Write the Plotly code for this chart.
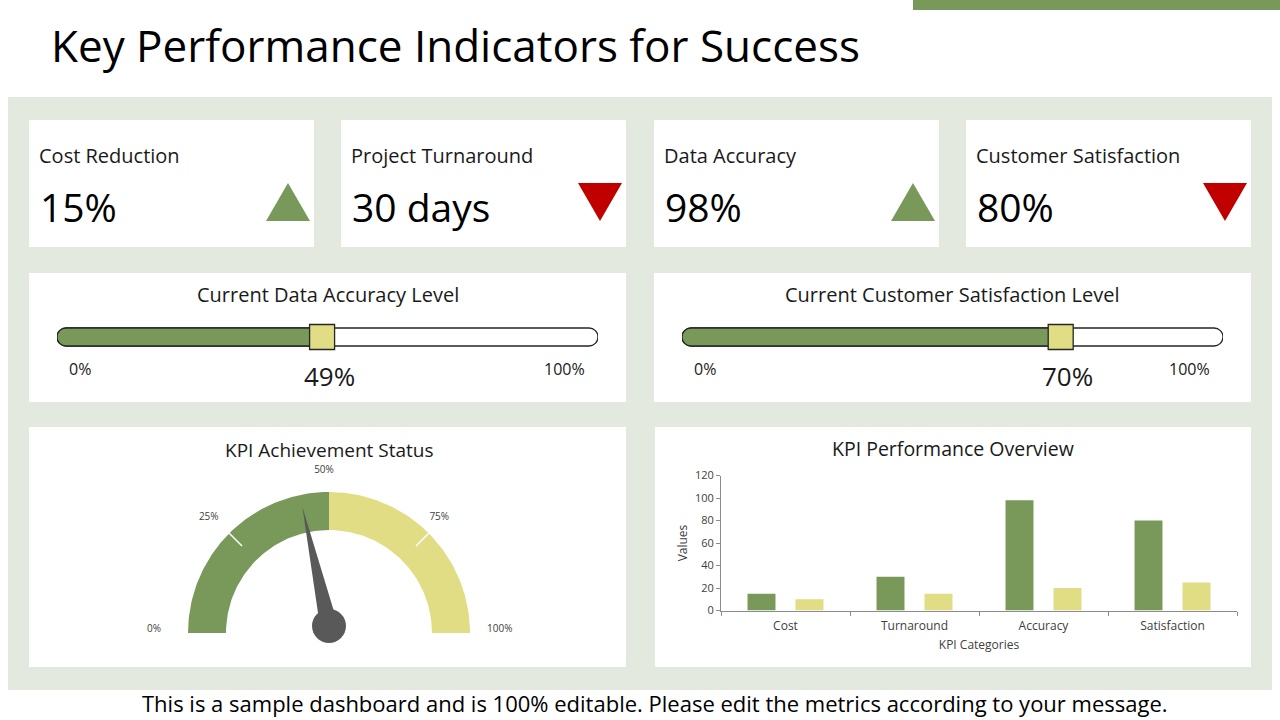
import numpy as np
import plotly.graph_objects as go

W, H = 1280, 720
FONT = "Century Gothic, Open Sans, sans-serif"
GREEN = "#78995A"
YELLOW = "#E0DD85"
RED = "#C00000"
PANEL = "#E3E9DE"
NEEDLE = "#595959"
OUTLINE = "#262626"

# ---------------- data ----------------
page_title = "Key Performance Indicators for Success"
footer_text = ("This is a sample dashboard and is 100% editable. "
               "Please edit the metrics according to your message.")

kpi_titles = ["Cost Reduction", "Project Turnaround", "Data Accuracy", "Customer Satisfaction"]
kpi_values = ["15%", "30 days", "98%", "80%"]
kpi_trends = ["up", "down", "up", "down"]

slider_titles = ["Current Data Accuracy Level", "Current Customer Satisfaction Level"]
slider_values = [49, 70]
slider_min_label = "0%"
slider_max_label = "100%"

gauge_title = "KPI Achievement Status"
gauge_band_edges = [0, 50, 100]
gauge_minor_ticks = [25, 75]
gauge_label_values = [0, 25, 50, 75, 100]
gauge_label_text = ["0%", "25%", "50%", "75%", "100%"]
gauge_value = 43

bar_title = "KPI Performance Overview"
bar_categories = ["Cost", "Turnaround", "Accuracy", "Satisfaction"]
bar_actual = [15, 30, 98, 80]
bar_target = [10, 15, 20, 25]
bar_y_ticks = [0, 20, 40, 60, 80, 100, 120]

# ---------------- helpers ----------------
def X(x):
    return x / W


def Y(y):
    return 1 - y / H


shapes = []
annotations = []


def rect(x0, y0, x1, y1, color):
    shapes.append(dict(type="rect", xref="paper", yref="paper",
                       x0=X(x0), x1=X(x1), y0=Y(y1), y1=Y(y0),
                       fillcolor=color, line=dict(width=0), layer="below"))


def text(x, y, s, size, color="#000000", xanchor="left", yanchor="middle"):
    annotations.append(dict(xref="paper", yref="paper", x=X(x), y=Y(y),
                            text=s, showarrow=False, xanchor=xanchor, yanchor=yanchor,
                            font=dict(family=FONT, size=size, color=color)))


fig = go.Figure()

# page decorations
rect(913, 0, 1280, 10, GREEN)
rect(8, 97, 1272, 690, PANEL)
text(49, 45, page_title, 44, "#000000")
text(655, 703, footer_text, 22, "#000000", xanchor="center")

# ---------------- KPI cards ----------------
row1 = [(29, 314), (341, 626), (654, 939), (966, 1251)]
for i, (x0, x1) in enumerate(row1):
    rect(x0, 120, x1, 247, "white")
    text(x0 + 8, 155, kpi_titles[i], 20, "#1a1a1a")
    text(x0 + 9, 206, kpi_values[i], 39, "#000000")
    tx0, tx1, ty0, ty1 = X(x1 - 48), X(x1 - 4), Y(183), Y(221)
    mid = (tx0 + tx1) / 2
    if kpi_trends[i] == "up":
        path = f"M{tx0},{ty1} L{tx1},{ty1} L{mid},{ty0} Z"
        col = GREEN
    else:
        path = f"M{tx0},{ty0} L{tx1},{ty0} L{mid},{ty1} Z"
        col = RED
    shapes.append(dict(type="path", xref="paper", yref="paper", path=path,
                       fillcolor=col, line=dict(width=0), layer="above"))

# ---------------- sliders ----------------
row2 = [(29, 626), (654, 1251)]
tracks = [(57, 598), (682, 1223)]
K = 0.5523
layout_axes = {}
for i, (c0, c1) in enumerate(row2):
    rect(c0, 273, c1, 402, "white")
    text((c0 + c1) / 2, 294, slider_titles[i], 20, "#1a1a1a", xanchor="center")
    t0, t1 = tracks[i]
    ax = "" if i == 0 else str(i + 1)
    xr, yr = "x" + ax, "y" + ax
    layout_axes["xaxis" + ax] = dict(domain=[X(t0), X(t1)], range=[0, 100], visible=False,
                                     fixedrange=True, anchor=yr)
    layout_axes["yaxis" + ax] = dict(domain=[Y(354), Y(320)], range=[-17, 17], visible=False,
                                     fixedrange=True, anchor=xr)
    rx = 9 * 100 / (t1 - t0)
    ry = 9
    kx, ky = K * rx, K * ry
    track = (f"M{rx},{-ry} L{100 - rx},{-ry} "
             f"C{100 - rx + kx},{-ry} {100},{-ky} {100},0 "
             f"C{100},{ky} {100 - rx + kx},{ry} {100 - rx},{ry} "
             f"L{rx},{ry} C{rx - kx},{ry} 0,{ky} 0,0 "
             f"C0,{-ky} {rx - kx},{-ry} {rx},{-ry} Z")
    shapes.append(dict(type="path", xref=xr, yref=yr, path=track, fillcolor="white",
                       line=dict(color=OUTLINE, width=1.3), layer="below"))
    v = slider_values[i]
    fill = (f"M{v},{-ry} L{rx},{-ry} C{rx - kx},{-ry} 0,{-ky} 0,0 "
            f"C0,{ky} {rx - kx},{ry} {rx},{ry} L{v},{ry} Z")
    shapes.append(dict(type="path", xref=xr, yref=yr, path=fill, fillcolor=GREEN,
                       line=dict(color=OUTLINE, width=1.3), layer="below"))
    fig.add_trace(go.Scatter(x=[v], y=[0], xaxis=xr, yaxis=yr, mode="markers",
                             marker=dict(symbol="square", size=25, color=YELLOW,
                                         line=dict(color=OUTLINE, width=1.3)),
                             hoverinfo="skip", showlegend=False))
    text(t0 + 23, 369, slider_min_label, 16, "#1a1a1a", xanchor="center")
    text(t1 - 34, 369, slider_max_label, 16, "#1a1a1a", xanchor="center")
    annotations.append(dict(xref=xr, yref="paper", x=v, y=Y(376), text=f"{v}%",
                            showarrow=False, xanchor="center", yanchor="middle", xshift=7,
                            font=dict(family=FONT, size=26, color="#1a1a1a")))

# ---------------- gauge ----------------
rect(29, 427, 626, 667, "white")
text(329, 450, gauge_title, 19, "#1a1a1a", xanchor="center")
layout_axes["xaxis3"] = dict(domain=[X(129), X(529)], range=[-200, 200], visible=False,
                             fixedrange=True, anchor="y3")
layout_axes["yaxis3"] = dict(domain=[Y(660), Y(460)], range=[-27, 173], visible=False,
                             fixedrange=True, anchor="x3")
R_OUT, R_IN = 141, 103


def ang(p):
    return np.pi * (1 - p / 100.0)


band_colors = [GREEN, YELLOW]
for j in range(len(gauge_band_edges) - 1):
    a, b = gauge_band_edges[j], gauge_band_edges[j + 1]
    th = np.linspace(ang(a), ang(b), 80)
    xs = np.concatenate([R_OUT * np.cos(th), R_IN * np.cos(th[::-1])])
    ys = np.concatenate([R_OUT * np.sin(th), R_IN * np.sin(th[::-1])])
    fig.add_trace(go.Scatter(x=xs, y=ys, xaxis="x3", yaxis="y3", mode="lines",
                             fill="toself", fillcolor=band_colors[j], line=dict(width=0),
                             hoverinfo="skip", showlegend=False))
for t in gauge_minor_ticks:
    th = ang(t)
    fig.add_trace(go.Scatter(x=[123 * np.cos(th), R_OUT * np.cos(th)],
                             y=[123 * np.sin(th), R_OUT * np.sin(th)],
                             xaxis="x3", yaxis="y3", mode="lines",
                             line=dict(color="white", width=1.5),
                             hoverinfo="skip", showlegend=False))
lab_x, lab_y, lab_pos = [], [], []
for p in gauge_label_values:
    th = ang(p)
    lab_x.append(163 * np.cos(th) - 5)
    lab_y.append(163 * np.sin(th) + (4 if p in (0, 100) else 0))
    lab_pos.append("middle left" if p == 0 else ("middle right" if p == 100 else "middle center"))
fig.add_trace(go.Scatter(x=lab_x, y=lab_y, xaxis="x3", yaxis="y3", mode="text",
                         text=gauge_label_text, textposition=lab_pos,
                         textfont=dict(family=FONT, size=10, color="#404040"),
                         hoverinfo="skip", showlegend=False))
# needle
piv = np.array([0.0, 7.0])
th = ang(gauge_value)
u = np.array([np.cos(th), np.sin(th)])
n = np.array([-u[1], u[0]])
tip = piv + 122 * u
b1 = piv + 9 * n
b2 = piv - 9 * n
fig.add_trace(go.Scatter(x=[b1[0], tip[0], b2[0], b1[0]], y=[b1[1], tip[1], b2[1], b1[1]],
                         xaxis="x3", yaxis="y3", mode="lines", fill="toself",
                         fillcolor=NEEDLE, line=dict(width=0, color=NEEDLE),
                         hoverinfo="skip", showlegend=False))
fig.add_trace(go.Scatter(x=[piv[0]], y=[piv[1]], xaxis="x3", yaxis="y3", mode="markers",
                         marker=dict(symbol="circle", size=34, color=NEEDLE, line=dict(width=0)),
                         hoverinfo="skip", showlegend=False))

# ---------------- bar chart ----------------
rect(655, 427, 1251, 667, "white")
text(953, 448, bar_title, 19.5, "#1a1a1a", xanchor="center")
fig.add_trace(go.Bar(x=bar_categories, y=bar_actual, xaxis="x4", yaxis="y4",
                     marker=dict(color=GREEN, line=dict(width=0)), name="Actual",
                     showlegend=False))
fig.add_trace(go.Bar(x=bar_categories, y=bar_target, xaxis="x4", yaxis="y4",
                     marker=dict(color=YELLOW, line=dict(width=0)), name="Target",
                     showlegend=False))
AXC = "#8C8C8C"
layout_axes["xaxis4"] = dict(domain=[X(721), X(1237)], anchor="y4", type="category",
                             showline=True, linecolor=AXC, linewidth=1,
                             ticks="outside", tickson="boundaries", ticklen=4, tickcolor=AXC,
                             ticklabelstandoff=4,
                             showgrid=False, zeroline=False, fixedrange=True,
                             tickfont=dict(family=FONT, size=12, color="#404040"),
                             title=dict(text="KPI Categories", standoff=7,
                                        font=dict(family=FONT, size=12, color="#404040")))
layout_axes["yaxis4"] = dict(domain=[Y(610.5), Y(475.5)], anchor="x4", range=[0, 120],
                             tickvals=bar_y_ticks, showline=True, linecolor=AXC, linewidth=1,
                             ticks="outside", ticklen=4, tickcolor=AXC,
                             showgrid=False, zeroline=False, fixedrange=True,
                             tickfont=dict(family=FONT, size=11, color="#404040"),
                             title=dict(text="Values", standoff=4,
                                        font=dict(family=FONT, size=12, color="#404040")))

fig.update_layout(
    width=W, height=H, margin=dict(l=0, r=0, t=0, b=0, autoexpand=False),
    paper_bgcolor="white", plot_bgcolor="rgba(0,0,0,0)",
    shapes=shapes, annotations=annotations,
    barmode="group", bargap=0.256, bargroupgap=0.417,
    showlegend=False, font=dict(family=FONT),
    **layout_axes,
)

fig.write_html("out.html", config={"displayModeBar": False},
               post_script="document.body.style.margin='0';document.body.style.padding='0';")
